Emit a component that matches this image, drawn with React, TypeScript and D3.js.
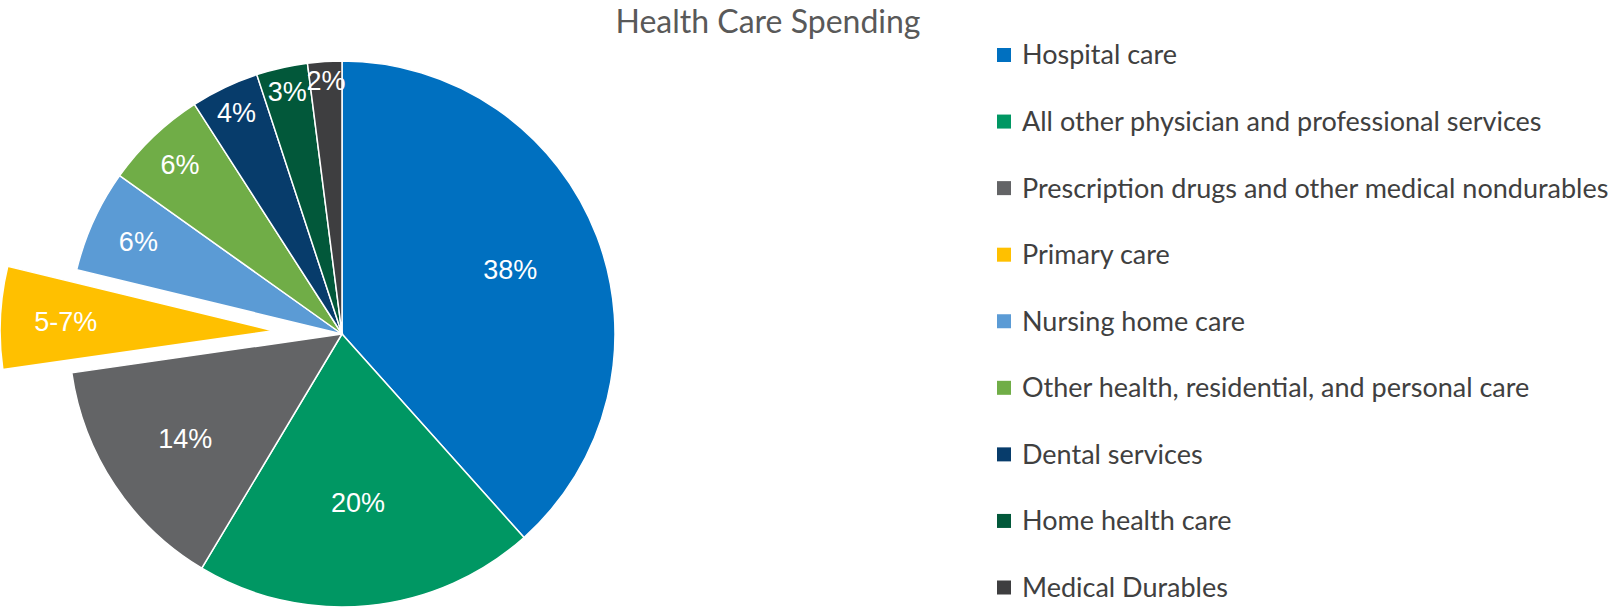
import React from "react";
import * as d3 from "d3";

const categories = [
  "Hospital care",
  "All other physician and professional services",
  "Prescription drugs and other medical nondurables",
  "Primary care",
  "Nursing home care",
  "Other health, residential, and personal care",
  "Dental services",
  "Home health care",
  "Medical Durables",
];
const values = [38, 20, 14, 6, 6, 6, 4, 3, 2];
const labels = ["38%", "20%", "14%", "5-7%", "6%", "6%", "4%", "3%", "2%"];
const colors = [
  "#0070C0",
  "#009763",
  "#636466",
  "#FFC000",
  "#5B9BD5",
  "#70AD47",
  "#073C6B",
  "#02583A",
  "#3E3E40",
];
const explodedIndex = 3;

// label distance from the centre, as a share of the radius (Excel "best fit" look)
const labelRadius = [0.66, 0.62, 0.69, 0.76, 0.82, 0.86, 0.9, 0.91, 0.93];

const W = 1612;
const H = 613;

export default function App() {
  const cx = 342;
  const cy = 334;
  const R = 273;
  const explode = 69;

  const pie = d3
    .pie<number>()
    .sort(null)
    .value((d) => d)
    .startAngle(0)
    .endAngle(2 * Math.PI);
  const arcs = pie(values);
  const arc = d3.arc<d3.PieArcDatum<number>>().innerRadius(0).outerRadius(R);

  const legendY = d3
    .scalePoint<number>()
    .domain(d3.range(categories.length))
    .range([55, 587.5]);

  return (
    <svg
      width={W}
      height={H}
      style={{ position: "absolute", left: 0, top: 0, background: "#fff" }}
    >
      <text
        x={768}
        y={33}
        textAnchor="middle"
        fontFamily="Lato, 'Open Sans', sans-serif"
        fontSize={32}
        fill="#595959"
      >
        Health Care Spending
      </text>

      {arcs.map((a, i) => {
        const mid = (a.startAngle + a.endAngle) / 2;
        const off = i === explodedIndex ? explode : 0;
        const ox = Math.sin(mid) * off;
        const oy = -Math.cos(mid) * off;
        const lr = labelRadius[i] * R;
        const lx = Math.sin(mid) * lr;
        const ly = -Math.cos(mid) * lr;
        return (
          <g key={i} transform={`translate(${cx + ox},${cy + oy})`}>
            <path d={arc(a) || ""} fill={colors[i]} stroke="#fff" strokeWidth={1.5} />
            <text
              x={lx}
              y={ly}
              dy="0.36em"
              textAnchor="middle"
              fontFamily="'Liberation Sans', Arial, sans-serif"
              fontSize={27}
              fill="#fff"
            >
              {labels[i]}
            </text>
          </g>
        );
      })}

      {categories.map((c, i) => (
        <g key={c} transform={`translate(997,${legendY(i)})`}>
          <rect x={0} y={-7} width={14} height={14} fill={colors[i]} />
          <text
            x={25}
            y={0}
            dy="0.35em"
            fontFamily="Lato, 'Open Sans', sans-serif"
            fontSize={27}
            fill="#404040"
          >
            {c}
          </text>
        </g>
      ))}
    </svg>
  );
}
